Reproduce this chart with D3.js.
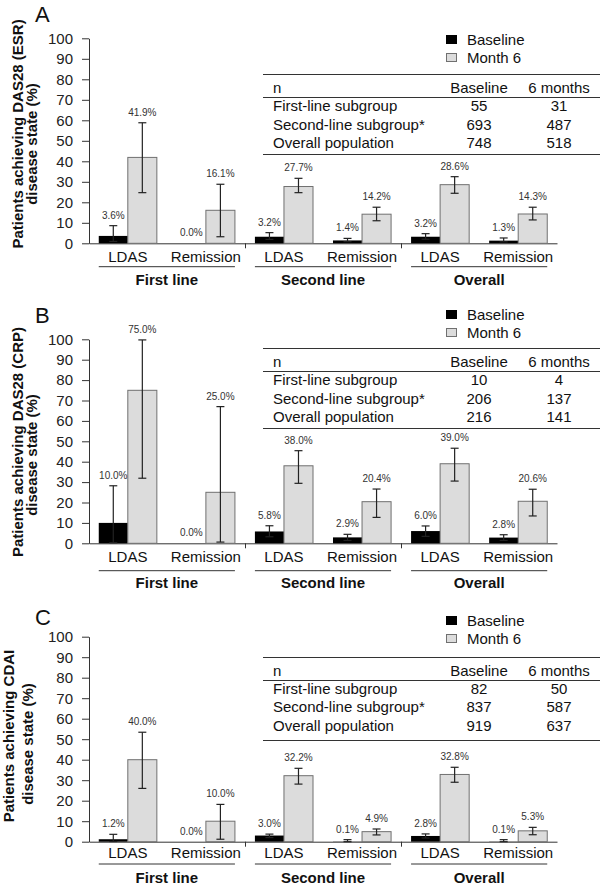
<!DOCTYPE html>
<html><head><meta charset="utf-8">
<script src="https://cdn.jsdelivr.net/npm/d3@7"></script>
<style>
body{margin:0;background:#fff}
svg{display:block}
text{font-family:"Liberation Sans",Arial,Helvetica,sans-serif}
</style>
</head><body>
<svg id="chart" width="600" height="885"></svg>
<script>
// ---------- data ----------
const categories = ["LDAS", "Remission", "LDAS", "Remission", "LDAS", "Remission"];
const groups = ["First line", "Second line", "Overall"];
const series = ["Baseline", "Month 6"];
const yTicks = [0, 10, 20, 30, 40, 50, 60, 70, 80, 90, 100];
const panelLetters = ["A", "B", "C"];
const tableHeader = ["n", "Baseline", "6 months"];
const tableRows = ["First-line subgroup", "Second-line subgroup*", "Overall population"];

const esrTitle = ["Patients achieving DAS28 (ESR)", "disease state (%)"];
const esrBaseline = [3.6, 0.0, 3.2, 1.4, 3.2, 1.3];
const esrBaselineLow = [0.9, null, 1.9, 0.8, 2.0, 0.7];
const esrBaselineHigh = [8.6, null, 5.2, 2.4, 4.7, 2.6];
const esrMonth6 = [41.9, 16.1, 27.7, 14.2, 28.6, 14.3];
const esrMonth6Low = [24.7, 3.2, 24.7, 11.0, 24.4, 11.4];
const esrMonth6High = [58.8, 28.8, 31.7, 17.6, 32.5, 17.6];
const esrNBaseline = [55, 693, 748];
const esrNMonth6 = [31, 487, 518];

const crpTitle = ["Patients achieving DAS28 (CRP)", "disease state (%)"];
const crpBaseline = [10.0, 0.0, 5.8, 2.9, 6.0, 2.8];
const crpBaselineLow = [0.3, null, 3.2, 1.4, 3.4, 1.4];
const crpBaselineHigh = [28.2, null, 8.6, 4.4, 8.5, 4.2];
const crpMonth6 = [75.0, 25.0, 38.0, 20.4, 39.0, 20.6];
const crpMonth6Low = [31.9, 0.6, 29.4, 12.7, 30.5, 13.4];
const crpMonth6High = [99.7, 67.0, 45.4, 26.6, 46.6, 26.5];
const crpNBaseline = [10, 206, 216];
const crpNMonth6 = [4, 137, 141];

const cdaiTitle = ["Patients achieving CDAI", "disease state (%)"];
const cdaiBaseline = [1.2, 0.0, 3.0, 0.1, 2.8, 0.1];
const cdaiBaselineLow = [0.1, null, 2.0, 0.0, 1.8, 0.0];
const cdaiBaselineHigh = [3.6, null, 3.7, 1.0, 3.8, 1.0];
const cdaiMonth6 = [40.0, 10.0, 32.2, 4.9, 32.8, 5.3];
const cdaiMonth6Low = [26.0, 1.2, 28.1, 3.3, 29.0, 3.4];
const cdaiMonth6High = [53.4, 18.2, 35.8, 6.2, 36.3, 7.0];
const cdaiNBaseline = [82, 837, 919];
const cdaiNMonth6 = [50, 587, 637];

// ---------- layout (positions only) ----------
const layouts = [
  {y100: 38.3, y0: 243.3, letterY: 22, legendY: 45, tableTop: 74, tableBottom: 154,
   titleX: [22.5, 36.5], titleY: [134, 144], catDy: 19, lineDy: 23.4, groupDy: 41.7},
  {y100: 339.3, y0: 543.3, letterY: 323, legendY: 320, tableTop: 348.3, tableBottom: 427.7,
   titleX: [22.5, 36.5], titleY: [442, 455], catDy: 18.7, lineDy: 27.4, groupDy: 45},
  {y100: 636.7, y0: 841.7, letterY: 625, legendY: 626, tableTop: 656.7, tableBottom: 740,
   titleX: [13.5, 32.5], titleY: [736, 744], catDy: 16.3, lineDy: 22.3, groupDy: 41.3}
];

const panels = [
  {letter: panelLetters[0], title: esrTitle, base: esrBaseline, baseLo: esrBaselineLow, baseHi: esrBaselineHigh,
   m6: esrMonth6, m6Lo: esrMonth6Low, m6Hi: esrMonth6High, nB: esrNBaseline, nM: esrNMonth6, L: layouts[0]},
  {letter: panelLetters[1], title: crpTitle, base: crpBaseline, baseLo: crpBaselineLow, baseHi: crpBaselineHigh,
   m6: crpMonth6, m6Lo: crpMonth6Low, m6Hi: crpMonth6High, nB: crpNBaseline, nM: crpNMonth6, L: layouts[1]},
  {letter: panelLetters[2], title: cdaiTitle, base: cdaiBaseline, baseLo: cdaiBaselineLow, baseHi: cdaiBaselineHigh,
   m6: cdaiMonth6, m6Lo: cdaiMonth6Low, m6Hi: cdaiMonth6High, nB: cdaiNBaseline, nM: cdaiNMonth6, L: layouts[2]}
];

const FONT = '"Liberation Sans", Arial, Helvetica, sans-serif';
const AXIS = "#333";
const svg = d3.select("#chart");

panels.forEach(p => {
  const L = p.L;
  const g = svg.append("g");
  const y = d3.scaleLinear().domain([0, 100]).range([L.y0, L.y100]);
  const x = d3.scaleBand().domain(d3.range(categories.length)).range([89, 557])
    .paddingInner(0.256).paddingOuter(0.125);
  const xs = d3.scaleBand().domain(series).range([0, x.bandwidth()]);

  // panel letter
  g.append("text").attr("x", 35).attr("y", L.letterY).attr("font-size", 22).attr("fill", "#111").text(p.letter);

  // y title
  p.title.forEach((t, i) => {
    g.append("text")
      .attr("transform", `translate(${L.titleX[i]},${L.titleY[i]}) rotate(-90)`)
      .attr("text-anchor", "middle").attr("font-weight", "bold").attr("font-size", 15)
      .attr("fill", "#111").text(t);
  });

  // y axis
  const ya = g.append("g").attr("transform", "translate(89,0)")
    .call(d3.axisLeft(y).tickValues(yTicks).tickSize(7).tickSizeOuter(0).tickPadding(9));
  ya.attr("font-family", FONT).attr("font-size", 15);
  ya.selectAll("text").attr("fill", "#222");
  ya.selectAll("line,path").attr("stroke", AXIS);

  // x axis with category labels
  const xa = g.append("g").attr("transform", `translate(0,${L.y0})`)
    .call(d3.axisBottom(x).tickSize(0).tickSizeOuter(0).tickPadding(L.catDy - 10.65)
      .tickFormat(i => categories[i]));
  xa.attr("font-family", FONT).attr("font-size", 15);
  xa.selectAll("text").attr("fill", "#111");
  xa.selectAll("path").attr("stroke", AXIS);

  // group divider ticks
  [2, 4].forEach(i => {
    const bx = Math.round(x(i) - x.step() * x.paddingInner() / 2) + 0.5;
    g.append("line").attr("x1", bx).attr("x2", bx).attr("y1", L.y0).attr("y2", L.y0 + 5)
      .attr("stroke", AXIS);
  });

  // group underline + label
  groups.forEach((gr, k) => {
    const x1 = x(2 * k), x2 = x(2 * k + 1) + x.bandwidth();
    g.append("line").attr("x1", x1).attr("x2", x2).attr("y1", L.y0 + L.lineDy).attr("y2", L.y0 + L.lineDy)
      .attr("stroke", AXIS);
    g.append("text").attr("x", (x1 + x2) / 2).attr("y", L.y0 + L.groupDy).attr("text-anchor", "middle")
      .attr("font-weight", "bold").attr("font-size", 15).attr("fill", "#111").text(gr);
  });

  // bars
  const rows = [];
  categories.forEach((c, i) => {
    rows.push({i, s: series[0], v: p.base[i], lo: p.baseLo[i], hi: p.baseHi[i]});
    rows.push({i, s: series[1], v: p.m6[i], lo: p.m6Lo[i], hi: p.m6Hi[i]});
  });

  g.selectAll("rect.bar").data(rows).join("rect").attr("class", "bar")
    .attr("x", d => x(d.i) + xs(d.s))
    .attr("width", xs.bandwidth())
    .attr("y", d => y(d.v))
    .attr("height", d => y(0) - y(d.v))
    .attr("fill", d => d.s === series[0] ? "#000" : "#dcdcdc")
    .attr("stroke", d => d.s === series[0] ? "none" : "#707070")
    .attr("stroke-width", 1);

  // error bars
  const eb = rows.filter(d => d.hi !== null);
  const cx = d => x(d.i) + xs(d.s) + xs.bandwidth() / 2;
  const ebg = g.selectAll("g.eb").data(eb).join("g").attr("class", "eb")
    .attr("stroke", "#222").attr("stroke-width", 1.2);
  ebg.append("line").attr("x1", cx).attr("x2", cx).attr("y1", d => y(d.lo)).attr("y2", d => y(d.hi));
  ebg.append("line").attr("x1", d => cx(d) - 4).attr("x2", d => cx(d) + 4).attr("y1", d => y(d.hi)).attr("y2", d => y(d.hi));
  ebg.append("line").attr("x1", d => cx(d) - 4).attr("x2", d => cx(d) + 4).attr("y1", d => y(d.lo)).attr("y2", d => y(d.lo));

  // value labels
  g.selectAll("text.val").data(rows).join("text").attr("class", "val")
    .attr("x", cx)
    .attr("y", d => y(d.hi !== null ? d.hi : d.v) - 7)
    .attr("text-anchor", "middle").attr("font-size", 10).attr("fill", "#333")
    .text(d => d.v.toFixed(1) + "%");

  // legend
  series.forEach((s, k) => {
    const ly = L.legendY + k * 18;
    g.append("rect").attr("x", 446.5).attr("y", ly - 9.5).attr("width", 10).attr("height", 8)
      .attr("fill", k === 0 ? "#000" : "#dcdcdc").attr("stroke", k === 0 ? "#000" : "#707070");
    g.append("text").attr("x", 467).attr("y", ly).attr("font-size", 15).attr("fill", "#111").text(s);
  });

  // table
  const T = L.tableTop;
  [T, T + 23, L.tableBottom].forEach(ly => {
    g.append("line").attr("x1", 263).attr("x2", 600).attr("y1", Math.round(ly) + 0.5).attr("y2", Math.round(ly) + 0.5)
      .attr("stroke", AXIS);
  });
  const colX = [273, 479, 559];
  const anchors = ["start", "middle", "middle"];
  tableHeader.forEach((h, k) => {
    g.append("text").attr("x", colX[k]).attr("y", T + 19).attr("text-anchor", anchors[k])
      .attr("font-size", 15).attr("fill", "#111").text(h);
  });
  tableRows.forEach((r, j) => {
    const ry = T + 37 + j * 18.5;
    [r, p.nB[j], p.nM[j]].forEach((v, k) => {
      g.append("text").attr("x", colX[k]).attr("y", ry).attr("text-anchor", anchors[k])
        .attr("font-size", 15).attr("fill", "#111").text(v);
    });
  });
});
</script>
</body></html>
